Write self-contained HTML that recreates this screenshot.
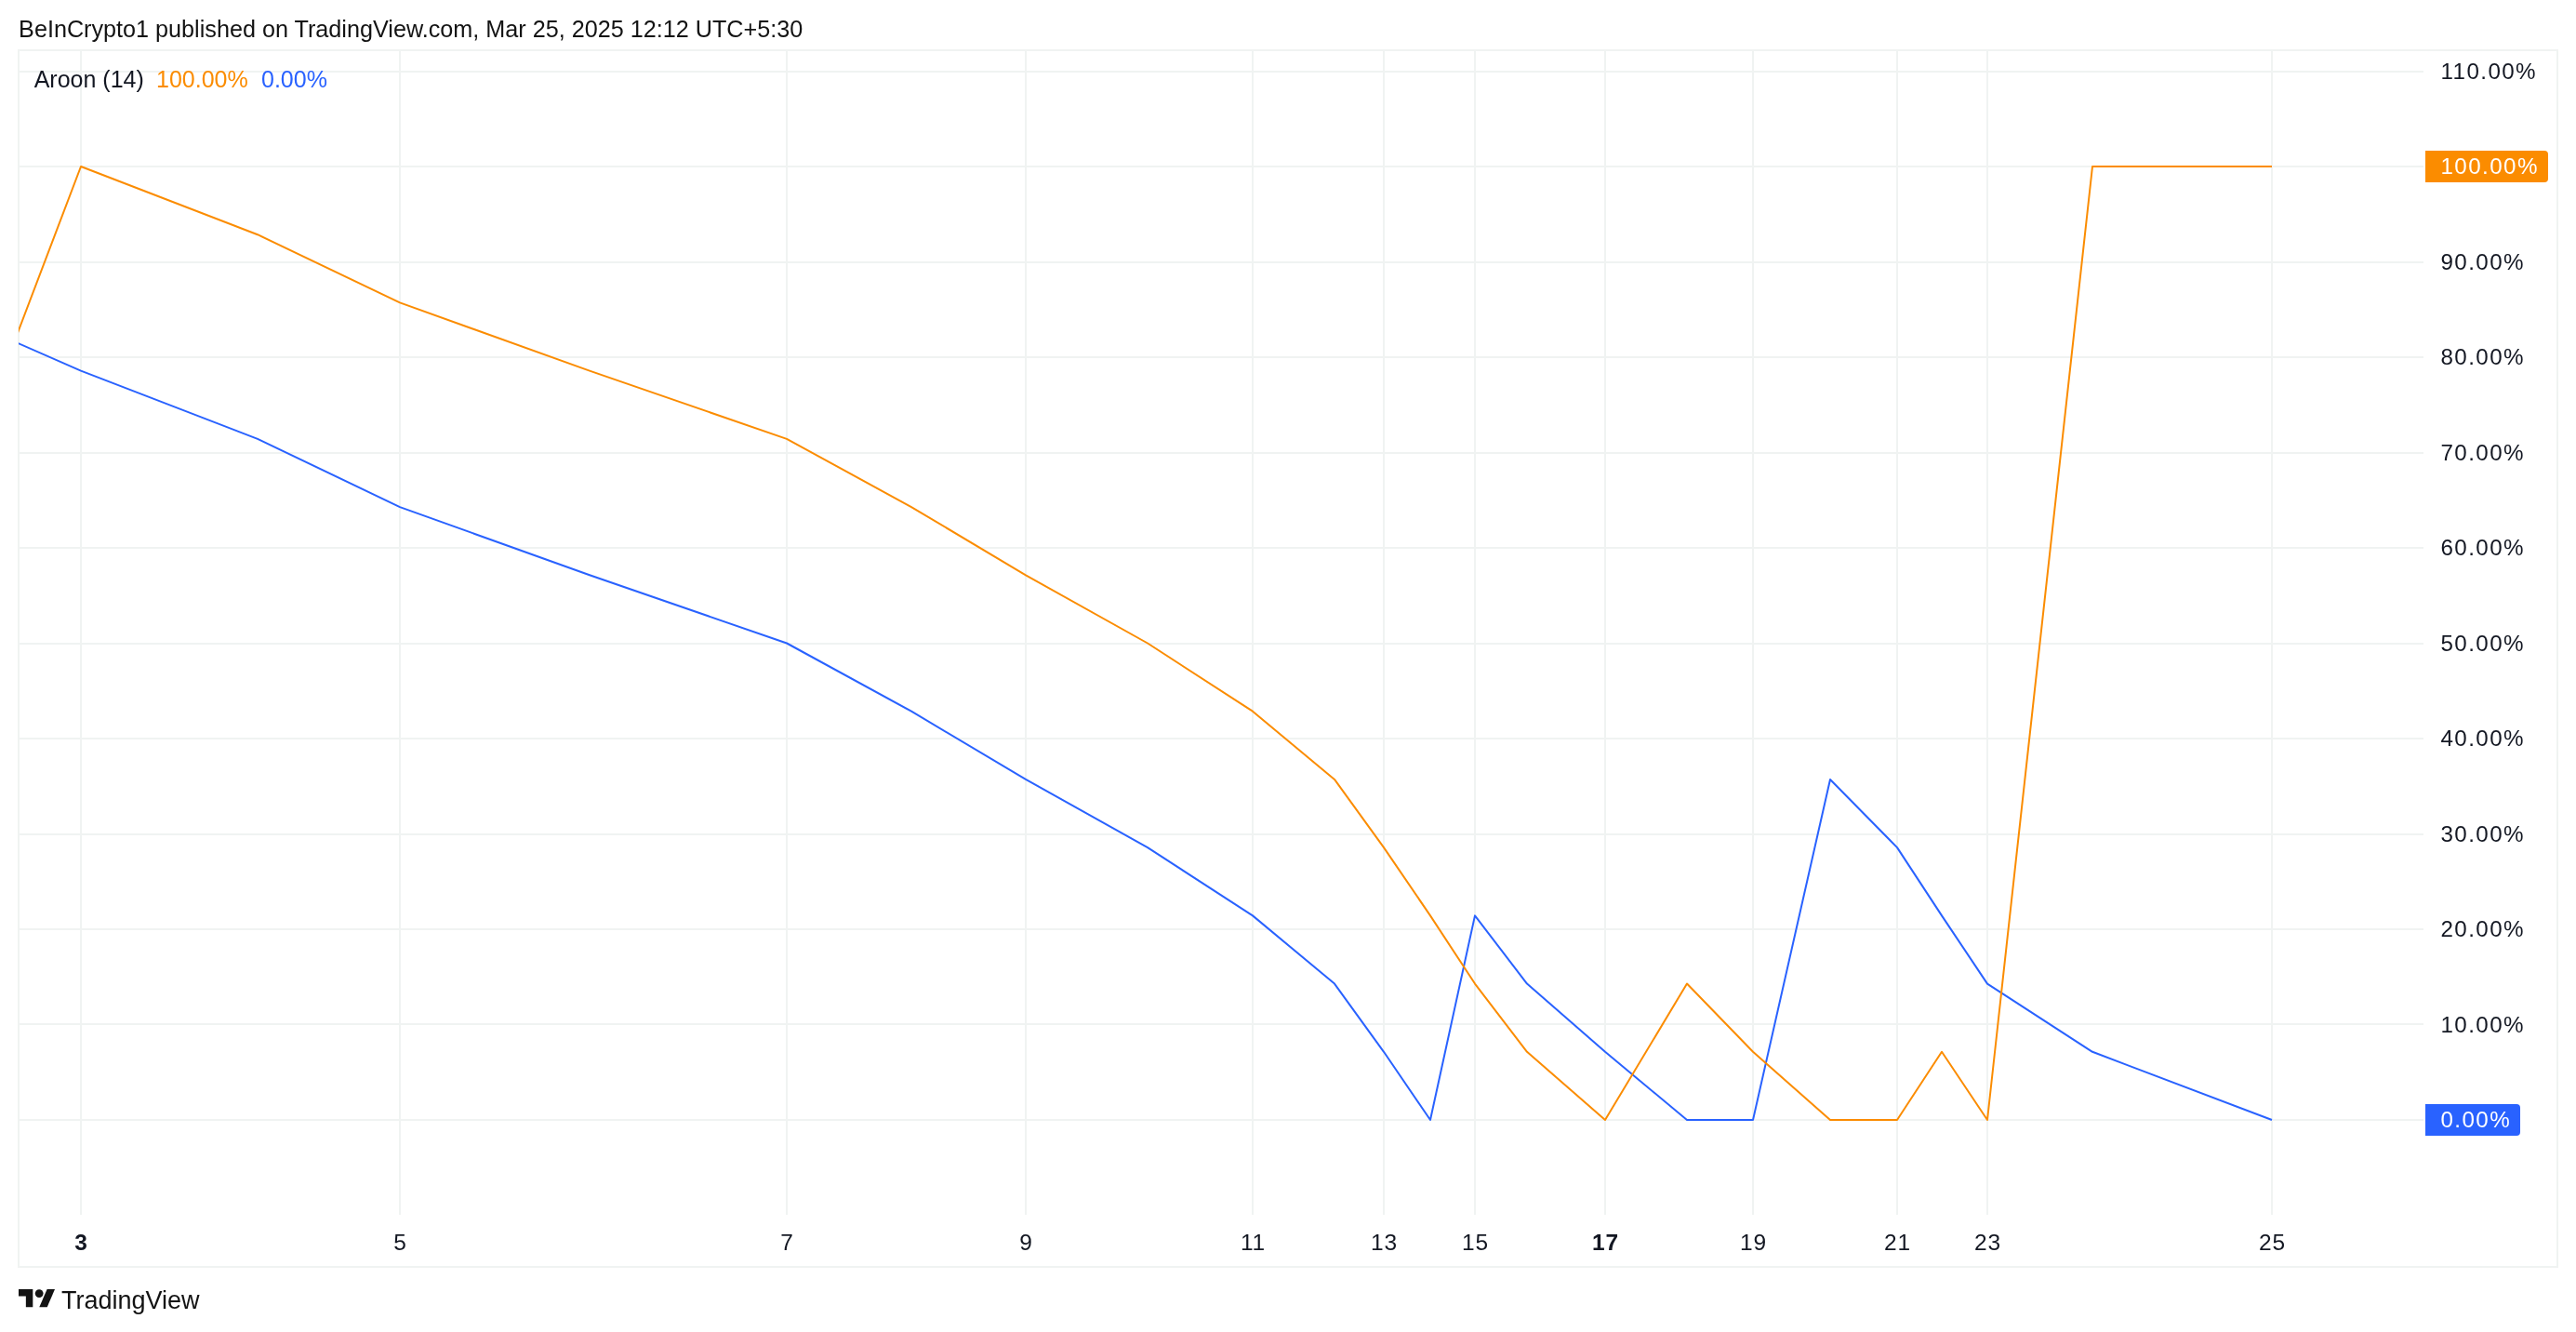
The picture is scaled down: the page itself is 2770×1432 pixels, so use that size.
<!DOCTYPE html>
<html><head><meta charset="utf-8"><title>Aroon (14) - TradingView</title>
<style>
html,body{margin:0;padding:0;background:#fff;}
body{width:2770px;height:1432px;overflow:hidden;position:relative;}
svg{position:absolute;left:0;top:0;display:block;will-change:transform;}
</style></head>
<body>
<svg width="2770" height="1432" viewBox="0 0 2770 1432">
<rect x="20" y="54" width="2730" height="1308" fill="none" stroke="#f0f3f2" stroke-width="2"/>
<rect x="21" y="76" width="2585" height="2" fill="#f0f3f2"/>
<rect x="21" y="281" width="2585" height="2" fill="#f0f3f2"/>
<rect x="21" y="383" width="2585" height="2" fill="#f0f3f2"/>
<rect x="21" y="486" width="2585" height="2" fill="#f0f3f2"/>
<rect x="21" y="588" width="2585" height="2" fill="#f0f3f2"/>
<rect x="21" y="691" width="2585" height="2" fill="#f0f3f2"/>
<rect x="21" y="793" width="2585" height="2" fill="#f0f3f2"/>
<rect x="21" y="896" width="2585" height="2" fill="#f0f3f2"/>
<rect x="21" y="998" width="2585" height="2" fill="#f0f3f2"/>
<rect x="21" y="1100" width="2585" height="2" fill="#f0f3f2"/>
<rect x="21" y="178" width="2585" height="2" fill="#f0f3f2"/>
<rect x="21" y="1203" width="2585" height="2" fill="#f0f3f2"/>
<rect x="86" y="55" width="2" height="1251" fill="#f0f3f2"/>
<rect x="429" y="55" width="2" height="1251" fill="#f0f3f2"/>
<rect x="845" y="55" width="2" height="1251" fill="#f0f3f2"/>
<rect x="1102" y="55" width="2" height="1251" fill="#f0f3f2"/>
<rect x="1346" y="55" width="2" height="1251" fill="#f0f3f2"/>
<rect x="1487" y="55" width="2" height="1251" fill="#f0f3f2"/>
<rect x="1585" y="55" width="2" height="1251" fill="#f0f3f2"/>
<rect x="1725" y="55" width="2" height="1251" fill="#f0f3f2"/>
<rect x="1884" y="55" width="2" height="1251" fill="#f0f3f2"/>
<rect x="2039" y="55" width="2" height="1251" fill="#f0f3f2"/>
<rect x="2136" y="55" width="2" height="1251" fill="#f0f3f2"/>
<rect x="2442" y="55" width="2" height="1251" fill="#f0f3f2"/>
<clipPath id="pane"><rect x="20" y="55" width="2586" height="1251"/></clipPath>
<g clip-path="url(#pane)" fill="none" stroke-width="2" stroke-linejoin="round" stroke-linecap="butt">
<polyline stroke="#2962ff" points="-80.00,325.43 87.00,398.64 277.00,471.86 430.00,545.07 634.00,618.29 846.00,691.50 980.00,764.71 1103.00,837.93 1234.00,911.14 1347.00,984.36 1435.00,1057.57 1488.00,1130.79 1538.00,1204.00 1586.00,984.36 1642.00,1057.57 1726.00,1130.79 1814.00,1204.00 1885.00,1204.00 1968.00,837.93 2040.00,911.14 2088.00,984.36 2137.00,1057.57 2250.00,1130.79 2443.00,1204.00"/>
<polyline stroke="#fb8c00" points="-80.00,618.29 87.00,179.00 277.00,252.21 430.00,325.43 634.00,398.64 846.00,471.86 980.00,545.07 1103.00,618.29 1234.00,691.50 1347.00,764.71 1435.00,837.93 1488.00,911.14 1538.00,984.36 1586.00,1057.57 1642.00,1130.79 1726.00,1204.00 1814.00,1057.57 1885.00,1130.79 1968.00,1204.00 2040.00,1204.00 2088.00,1130.79 2137.00,1204.00 2250.00,179.00 2443.00,179.00"/>
</g>
<text x="2624.5" y="84.90" font-family="Liberation Sans, Arial, sans-serif" font-size="24.2" letter-spacing="1.4" fill="#131722">110.00%</text>
<text x="2624.5" y="289.90" font-family="Liberation Sans, Arial, sans-serif" font-size="24.2" letter-spacing="1.4" fill="#131722">90.00%</text>
<text x="2624.5" y="392.40" font-family="Liberation Sans, Arial, sans-serif" font-size="24.2" letter-spacing="1.4" fill="#131722">80.00%</text>
<text x="2624.5" y="494.90" font-family="Liberation Sans, Arial, sans-serif" font-size="24.2" letter-spacing="1.4" fill="#131722">70.00%</text>
<text x="2624.5" y="597.40" font-family="Liberation Sans, Arial, sans-serif" font-size="24.2" letter-spacing="1.4" fill="#131722">60.00%</text>
<text x="2624.5" y="699.90" font-family="Liberation Sans, Arial, sans-serif" font-size="24.2" letter-spacing="1.4" fill="#131722">50.00%</text>
<text x="2624.5" y="802.40" font-family="Liberation Sans, Arial, sans-serif" font-size="24.2" letter-spacing="1.4" fill="#131722">40.00%</text>
<text x="2624.5" y="904.90" font-family="Liberation Sans, Arial, sans-serif" font-size="24.2" letter-spacing="1.4" fill="#131722">30.00%</text>
<text x="2624.5" y="1007.40" font-family="Liberation Sans, Arial, sans-serif" font-size="24.2" letter-spacing="1.4" fill="#131722">20.00%</text>
<text x="2624.5" y="1109.90" font-family="Liberation Sans, Arial, sans-serif" font-size="24.2" letter-spacing="1.4" fill="#131722">10.00%</text>
<path d="M2608 162 H2736 Q2740 162 2740 166 V192 Q2740 196 2736 196 H2608 Z" fill="#fb8c00"/>
<text x="2624.5" y="187.4" font-family="Liberation Sans, Arial, sans-serif" font-size="24.2" letter-spacing="1.4" fill="#fff">100.00%</text>
<path d="M2608 1187 H2706 Q2710 1187 2710 1191 V1217 Q2710 1221 2706 1221 H2608 Z" fill="#2962ff"/>
<text x="2624.5" y="1212.4" font-family="Liberation Sans, Arial, sans-serif" font-size="24.2" letter-spacing="1.4" fill="#fff">0.00%</text>
<text x="87.4" y="1344.3" font-family="Liberation Sans, Arial, sans-serif" font-size="24.5" text-anchor="middle" letter-spacing="0.8" fill="#131722" font-weight="bold">3</text>
<text x="430.4" y="1344.3" font-family="Liberation Sans, Arial, sans-serif" font-size="24.5" text-anchor="middle" letter-spacing="0.8" fill="#131722">5</text>
<text x="846.4" y="1344.3" font-family="Liberation Sans, Arial, sans-serif" font-size="24.5" text-anchor="middle" letter-spacing="0.8" fill="#131722">7</text>
<text x="1103.4" y="1344.3" font-family="Liberation Sans, Arial, sans-serif" font-size="24.5" text-anchor="middle" letter-spacing="0.8" fill="#131722">9</text>
<text x="1347.4" y="1344.3" font-family="Liberation Sans, Arial, sans-serif" font-size="24.5" text-anchor="middle" letter-spacing="0.8" fill="#131722">11</text>
<text x="1488.4" y="1344.3" font-family="Liberation Sans, Arial, sans-serif" font-size="24.5" text-anchor="middle" letter-spacing="0.8" fill="#131722">13</text>
<text x="1586.4" y="1344.3" font-family="Liberation Sans, Arial, sans-serif" font-size="24.5" text-anchor="middle" letter-spacing="0.8" fill="#131722">15</text>
<text x="1726.4" y="1344.3" font-family="Liberation Sans, Arial, sans-serif" font-size="24.5" text-anchor="middle" letter-spacing="0.8" fill="#131722" font-weight="bold">17</text>
<text x="1885.4" y="1344.3" font-family="Liberation Sans, Arial, sans-serif" font-size="24.5" text-anchor="middle" letter-spacing="0.8" fill="#131722">19</text>
<text x="2040.4" y="1344.3" font-family="Liberation Sans, Arial, sans-serif" font-size="24.5" text-anchor="middle" letter-spacing="0.8" fill="#131722">21</text>
<text x="2137.4" y="1344.3" font-family="Liberation Sans, Arial, sans-serif" font-size="24.5" text-anchor="middle" letter-spacing="0.8" fill="#131722">23</text>
<text x="2443.4" y="1344.3" font-family="Liberation Sans, Arial, sans-serif" font-size="24.5" text-anchor="middle" letter-spacing="0.8" fill="#131722">25</text>
<text x="36.7" y="94.2" font-family="Liberation Sans, Arial, sans-serif" font-size="25" fill="#131722">Aroon (14)</text>
<text x="168" y="94.2" font-family="Liberation Sans, Arial, sans-serif" font-size="25" fill="#fb8c00">100.00%</text>
<text x="281" y="94.2" font-family="Liberation Sans, Arial, sans-serif" font-size="25" fill="#2962ff">0.00%</text>
<text x="20.1" y="39.8" font-family="Liberation Sans, Arial, sans-serif" font-size="25.2" fill="#131313">BeInCrypto1 published on TradingView.com, Mar 25, 2025 12:12 UTC+5:30</text>
<g fill="#131313"><path d="M20 1386 H35.3 V1405.2 H27.85 V1393.6 H20 Z"/><circle cx="42.15" cy="1390.6" r="4.4"/><path d="M50.6 1386 H59 L50.7 1405.2 H42.3 Z"/></g>
<text x="66" y="1407" font-family="Liberation Sans, Arial, sans-serif" font-size="27" fill="#131313">TradingView</text>
</svg>
</body></html>
